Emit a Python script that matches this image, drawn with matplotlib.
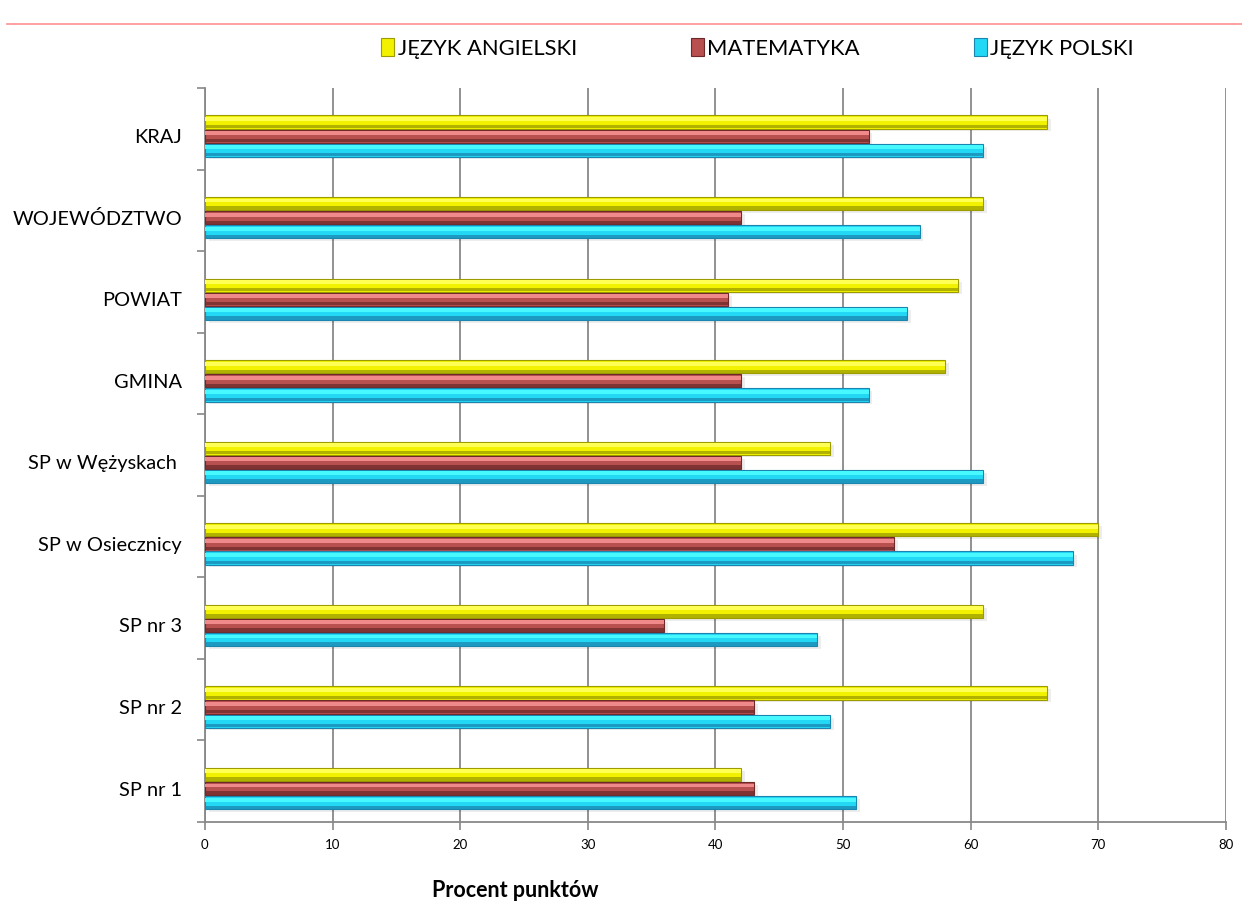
import numpy as np
import matplotlib.pyplot as plt
from matplotlib.patches import Patch
from matplotlib.lines import Line2D

plt.rcParams['font.family'] = ['Lato', 'DejaVu Sans']

# dane z wykresu (od dołu do góry)
kategorie = ["SP nr 1", "SP nr 2", "SP nr 3", "SP w Osiecznicy", "SP w Wężyskach ",
             "GMINA", "POWIAT", "WOJEWÓDZTWO", "KRAJ"]
angielski = [42, 66, 61, 70, 49, 58, 59, 61, 66]
matematyka = [43, 43, 36, 54, 42, 42, 41, 42, 52]
polski = [51, 49, 48, 68, 61, 52, 55, 56, 61]

serie = ["JĘZYK ANGIELSKI", "MATEMATYKA", "JĘZYK POLSKI"]
# kolor glowny, jasny (gora), ciemny (dol)
kolory = [("#F2F200", "#FFFF55", "#9C9C00"),
          ("#B85050", "#F08A8A", "#6E2A2A"),
          ("#22D8F5", "#48F8FF", "#1A86B0")]

fig = plt.figure(figsize=(12.42, 9.15), dpi=100)
ax = fig.add_axes([0.165, 0.1016, 0.822, 0.8022])

y = np.arange(len(kategorie))
sh = -0.09   # przesuniecie grup w dol (efekt 3D)
h = 0.173
offs = [h, 0, -h]
for vals, off, (c, cl, cd) in zip([angielski, matematyka, polski], offs, kolory):
    # cien
    ax.barh(y + sh + off - 0.035, vals, height=h * 0.9, left=0.3, color="#000000",
            alpha=0.07, linewidth=0, zorder=2)
    ax.barh(y + sh + off, vals, height=h * 0.94, color=c, edgecolor=cd, linewidth=0.8, zorder=3)
    ax.barh(y + sh + off + h * 0.22, vals, height=h * 0.28, color=cl, linewidth=0, zorder=4)
    ax.barh(y + sh + off - h * 0.32, vals, height=h * 0.24, color=cd, linewidth=0, alpha=0.75, zorder=4)

ax.set_xlim(0, 80)
ax.set_ylim(-0.5, len(kategorie) - 0.5)
ax.set_xticks(np.arange(0, 81, 10))
ax.set_yticks(y + sh)
ax.set_yticklabels(kategorie, fontsize=14.4)
ax.set_yticks(np.arange(-0.5, len(kategorie), 1), minor=True)
ax.tick_params(axis='y', which='major', length=0, pad=16.5)
ax.tick_params(axis='y', which='minor', length=6, color="#888888", width=1.2)
ax.tick_params(axis='x', length=6, color="#888888", width=1.2, labelsize=9.5, pad=6)

ax.grid(axis='x', color="#888888", linewidth=1.3, zorder=0)
ax.set_axisbelow(True)
for s in ["top", "right"]:
    ax.spines[s].set_visible(False)
for s in ["left", "bottom"]:
    ax.spines[s].set_color("#888888")
    ax.spines[s].set_linewidth(1.3)

uchwyty = [Patch(facecolor=c, edgecolor=cd, linewidth=0.8) for c, cl, cd in kolory]
fig.legend(uchwyty, serie, ncol=3, loc="center", bbox_to_anchor=(0.61, 0.947),
           frameon=False, fontsize=15.8, handlelength=0.6, handleheight=0.9,
           handletextpad=0.15, columnspacing=5.2)

fig.text(0.415, 0.027, "Procent punktów", fontsize=15.5, fontweight="bold",
         ha="center", va="center")

# czerwona linia pod (ucietym) tytulem
fig.add_artist(Line2D([0.006, 1.0], [0.974, 0.974], color="#FF9090", linewidth=1.2))

fig.savefig("out.png", dpi=100)
